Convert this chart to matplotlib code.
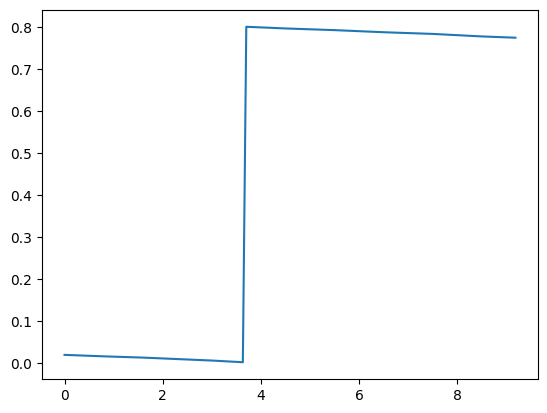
import numpy as np
import matplotlib
matplotlib.use("Agg")
import matplotlib.pyplot as plt

## values
x_values = [0.0, 0.8, 1.6, 2.4, 3.0, 3.63, 3.70, 4.5, 5.5, 6.5, 7.5, 8.5, 9.18]
y_values = [0.0205, 0.017, 0.014, 0.010, 0.007, 0.003, 0.801, 0.797, 0.793, 0.788, 0.784, 0.778, 0.775]

fig = plt.figure(figsize=(5.47, 4.13), dpi=100)
ax = fig.add_axes([42 / 547, 34 / 413, 496 / 547, 369 / 413])
ax.plot(x_values, y_values, color='#1f77b4')

fig.savefig('out.png', dpi=100)
